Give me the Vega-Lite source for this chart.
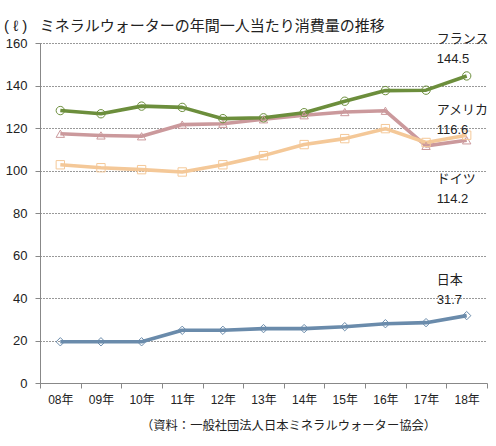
{
  "$schema": "https://vega.github.io/schema/vega-lite/v6.json",
  "width": 447,
  "height": 340,
  "autosize": {"type": "none"},
  "padding": {"left": 40, "top": 43, "right": 9, "bottom": 63},
  "background": "white",
  "config": {
    "view": {"stroke": null},
    "font": "Liberation Sans, Noto Sans CJK JP",
    "text": {"font": "Liberation Sans, Noto Sans CJK JP"}
  },
  "title": {
    "text": "(\u00a0ℓ\u00a0)\u00a0\u00a0\u00a0ミネラルウォーターの年間一人当たり消費量の推移",
    "anchor": "start",
    "frame": "group",
    "dx": -36,
    "offset": -1,
    "fontSize": 15,
    "fontWeight": "normal",
    "color": "#222222",
    "font": "Liberation Sans, Noto Sans CJK JP"
  },
  "datasets": {
    "series": [
      {"country": "アメリカ", "year": "08年", "value": 117.3},
      {"country": "アメリカ", "year": "09年", "value": 116.5},
      {"country": "アメリカ", "year": "10年", "value": 116.1},
      {"country": "アメリカ", "year": "11年", "value": 121.6},
      {"country": "アメリカ", "year": "12年", "value": 122.0},
      {"country": "アメリカ", "year": "13年", "value": 124.1},
      {"country": "アメリカ", "year": "14年", "value": 126.0},
      {"country": "アメリカ", "year": "15年", "value": 127.5},
      {"country": "アメリカ", "year": "16年", "value": 128.1},
      {"country": "アメリカ", "year": "17年", "value": 111.6},
      {"country": "アメリカ", "year": "18年", "value": 114.2},
      {"country": "ドイツ", "year": "08年", "value": 102.7},
      {"country": "ドイツ", "year": "09年", "value": 101.3},
      {"country": "ドイツ", "year": "10年", "value": 100.4},
      {"country": "ドイツ", "year": "11年", "value": 99.3},
      {"country": "ドイツ", "year": "12年", "value": 102.7},
      {"country": "ドイツ", "year": "13年", "value": 107.0},
      {"country": "ドイツ", "year": "14年", "value": 112.2},
      {"country": "ドイツ", "year": "15年", "value": 115.0},
      {"country": "ドイツ", "year": "16年", "value": 119.7},
      {"country": "ドイツ", "year": "17年", "value": 113.2},
      {"country": "ドイツ", "year": "18年", "value": 116.6},
      {"country": "フランス", "year": "08年", "value": 128.2},
      {"country": "フランス", "year": "09年", "value": 126.7},
      {"country": "フランス", "year": "10年", "value": 130.3},
      {"country": "フランス", "year": "11年", "value": 129.7},
      {"country": "フランス", "year": "12年", "value": 124.4},
      {"country": "フランス", "year": "13年", "value": 124.8},
      {"country": "フランス", "year": "14年", "value": 127.2},
      {"country": "フランス", "year": "15年", "value": 132.6},
      {"country": "フランス", "year": "16年", "value": 137.6},
      {"country": "フランス", "year": "17年", "value": 137.8},
      {"country": "フランス", "year": "18年", "value": 144.5},
      {"country": "日本", "year": "08年", "value": 19.4},
      {"country": "日本", "year": "09年", "value": 19.4},
      {"country": "日本", "year": "10年", "value": 19.4},
      {"country": "日本", "year": "11年", "value": 24.8},
      {"country": "日本", "year": "12年", "value": 24.8},
      {"country": "日本", "year": "13年", "value": 25.6},
      {"country": "日本", "year": "14年", "value": 25.6},
      {"country": "日本", "year": "15年", "value": 26.5},
      {"country": "日本", "year": "16年", "value": 27.9},
      {"country": "日本", "year": "17年", "value": 28.4},
      {"country": "日本", "year": "18年", "value": 31.7}
    ],
    "labels": [
      {"label": "フランス\n144.5", "year": "18年", "value": 161.7},
      {"label": "アメリカ\n116.6", "year": "18年", "value": 128.3},
      {"label": "ドイツ\n114.2", "year": "18年", "value": 95.9},
      {"label": "日本\n31.7", "year": "18年", "value": 48.5}
    ]
  },
  "encoding": {
    "x": {
      "field": "year",
      "type": "ordinal",
      "scale": {"type": "band", "paddingInner": 0, "paddingOuter": 0},
      "axis": {
        "title": "（資料：一般社団法人日本ミネラルウォーター協会）",
        "titleFontSize": 12.3,
        "titleFontWeight": "normal",
        "titleColor": "#222222",
        "titleX": 248,
        "titleY": 42,
        "titleAlign": "center",
        "titleBaseline": "middle",
        "labelAngle": 0,
        "labelFontSize": 12,
        "labelColor": "#222222",
        "labelPadding": 6,
        "tickBand": "extent",
        "tickSize": 5,
        "tickColor": "#888888",
        "domainColor": "#888888",
        "grid": false
      }
    },
    "y": {
      "field": "value",
      "type": "quantitative",
      "scale": {"domain": [0, 160], "nice": false, "zero": true},
      "axis": {
        "title": null,
        "values": [0, 20, 40, 60, 80, 100, 120, 140, 160],
        "labelFontSize": 13,
        "labelColor": "#222222",
        "labelPadding": 8,
        "tickSize": 5,
        "tickColor": "#888888",
        "domainColor": "#888888",
        "grid": true,
        "gridColor": "#333333",
        "gridDash": [1, 2],
        "gridWidth": 1
      }
    }
  },
  "layer": [
    {
      "data": {"name": "series"},
      "mark": {"type": "line", "strokeWidth": 3.6, "strokeJoin": "round"},
      "encoding": {
        "color": {
          "field": "country",
          "type": "nominal",
          "scale": {
            "domain": ["アメリカ", "ドイツ", "フランス", "日本"],
            "range": ["#CB999C", "#F4C898", "#6C8E3C", "#6A8BAB"]
          },
          "legend": null
        }
      }
    },
    {
      "data": {"name": "series"},
      "mark": {"type": "point", "filled": false, "size": 70, "strokeWidth": 1, "opacity": 1},
      "encoding": {
        "color": {
          "field": "country",
          "type": "nominal",
          "scale": {
            "domain": ["アメリカ", "ドイツ", "フランス", "日本"],
            "range": ["#CB999C", "#F4C898", "#6C8E3C", "#6A8BAB"]
          },
          "legend": null
        },
        "shape": {
          "field": "country",
          "type": "nominal",
          "scale": {
            "domain": ["アメリカ", "ドイツ", "フランス", "日本"],
            "range": ["triangle-up", "square", "circle", "diamond"]
          },
          "legend": null
        }
      }
    },
    {
      "data": {"name": "labels"},
      "mark": {
        "type": "text",
        "align": "left",
        "baseline": "middle",
        "dx": -30,
        "fontSize": 13,
        "lineHeight": 20,
        "lineBreak": "\n",
        "color": "#222222"
      },
      "encoding": {
        "text": {"field": "label", "type": "nominal"}
      }
    }
  ]
}
